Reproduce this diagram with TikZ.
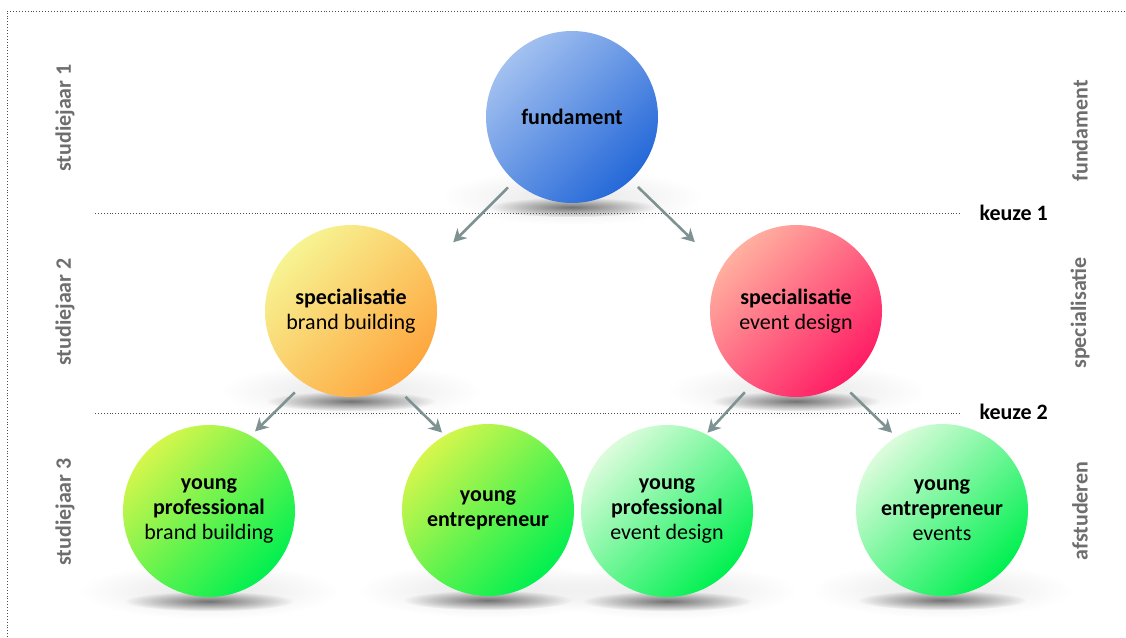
\documentclass[tikz,border=0pt]{standalone}
\usepackage{fontspec}
\setmainfont{Carlito}
\usetikzlibrary{arrows.meta,fadings,backgrounds}
\definecolor{pijlgrijs}{HTML}{7F9292}
\definecolor{tekstgrijs}{HTML}{6E6E6E}
\tikzfading[name=schaduw,inner color=transparent!0,outer color=transparent!100]
\begin{document}
\begin{tikzpicture}[x=1pt,y=1pt,>={Stealth[length=13pt,width=14pt]},
	bol/.style={circle,minimum size=172pt,inner sep=0pt,align=center,font=\fontsize{22}{25}\selectfont},
	blauw/.style={bol,top color={rgb,255:red,163;green,193;blue,240},bottom color={rgb,255:red,36;green,104;blue,216},shading angle=45},
	geel/.style={bol,top color={rgb,255:red,247;green,244;blue,147},bottom color={rgb,255:red,254;green,166;blue,62},shading angle=45},
	roze/.style={bol,top color={rgb,255:red,255;green,176;blue,160},bottom color={rgb,255:red,255;green,28;blue,100},shading angle=45},
	groen/.style={bol,top color={rgb,255:red,214;green,246;blue,76},bottom color={rgb,255:red,0;green,240;blue,80},shading angle=45},
	lichtgroen/.style={bol,top color={rgb,255:red,220;green,252;blue,220},bottom color={rgb,255:red,0;green,240;blue,80},shading angle=45},
	pijl/.style={->,draw=pijlgrijs,fill=pijlgrijs,line width=2.6pt},
	jaar/.style={rotate=90,text=tekstgrijs,font=\bfseries\fontsize{22}{26}\selectfont},
	keuze/.style={anchor=west,font=\bfseries\fontsize{22}{26}\selectfont},
	grens/.style={black!70,line width=0.9pt,dotted}]
	\useasboundingbox (0,0) rectangle (1126,-637);
	\draw[grens] (7,-637)--(7,-11)--(1126,-11);

	\node[blauw] (fund) at (572,-117) {\textbf{fundament}};
	\node[geel] (spbb) at (351,-311) {\textbf{specialisatie}\\brand building};
	\node[roze] (sped) at (796,-311) {\textbf{specialisatie}\\event design};
	\node[groen] (ypbb) at (209,-511) {\textbf{young}\\\textbf{professional}\\brand building};
	\node[groen] (yebb) at (488,-510) {\textbf{young}\\\textbf{entrepreneur}};
	\node[lichtgroen] (yped) at (667,-511) {\textbf{young}\\\textbf{professional}\\event design};
	\node[lichtgroen] (yeev) at (942,-510) {\textbf{young}\\\textbf{entrepreneur}\\events};

	\begin{scope}[on background layer]
	\foreach \b in {fund,spbb,sped,ypbb,yebb,yped,yeev}{
		\fill[black!10,path fading=schaduw] ([yshift=6pt]\b.south) ellipse (130 and 28);
		\fill[black!55,path fading=schaduw] ([yshift=-4pt]\b.south) ellipse (85 and 10);
	}
	\end{scope}

	\draw[grens] (95,-213) coordinate (k1l)--(960,-213) coordinate (k1r);
	\draw[grens] (95,-413) coordinate (k2l)--(960,-413) coordinate (k2r);
	\node[keuze] (k1) at (976,-213) {keuze 1};
	\node[keuze] (k2) at (976,-412) {keuze 2};

	\draw[pijl,shorten <=9pt,shorten >=38pt] (fund.228)--(spbb.29);
	\draw[pijl,shorten <=10pt,shorten >=37pt] (fund.313)--(sped.150);
	\draw[pijl,shorten <=13pt,shorten >=6pt] (spbb.237)--(ypbb.61);
	\draw[pijl,shorten <=16pt,shorten >=4pt] (spbb.300)--(yebb.120);
	\draw[pijl,shorten <=10pt,shorten >=2pt] (sped.239)--(yped.63);
	\draw[pijl,shorten <=12pt,shorten >=6pt] (sped.302)--(yeev.122);

	\node[jaar] (sj1) at (65,-118) {studiejaar 1};
	\node[jaar] (sj2) at (65,-312) {studiejaar 2};
	\node[jaar] (sj3) at (65,-512) {studiejaar 3};
	\node[jaar] (f1) at (1080,-131) {fundament};
	\node[jaar] (f2) at (1080,-313) {specialisatie};
	\node[jaar] (f3) at (1080,-511) {afstuderen};
\end{tikzpicture}
\end{document}
